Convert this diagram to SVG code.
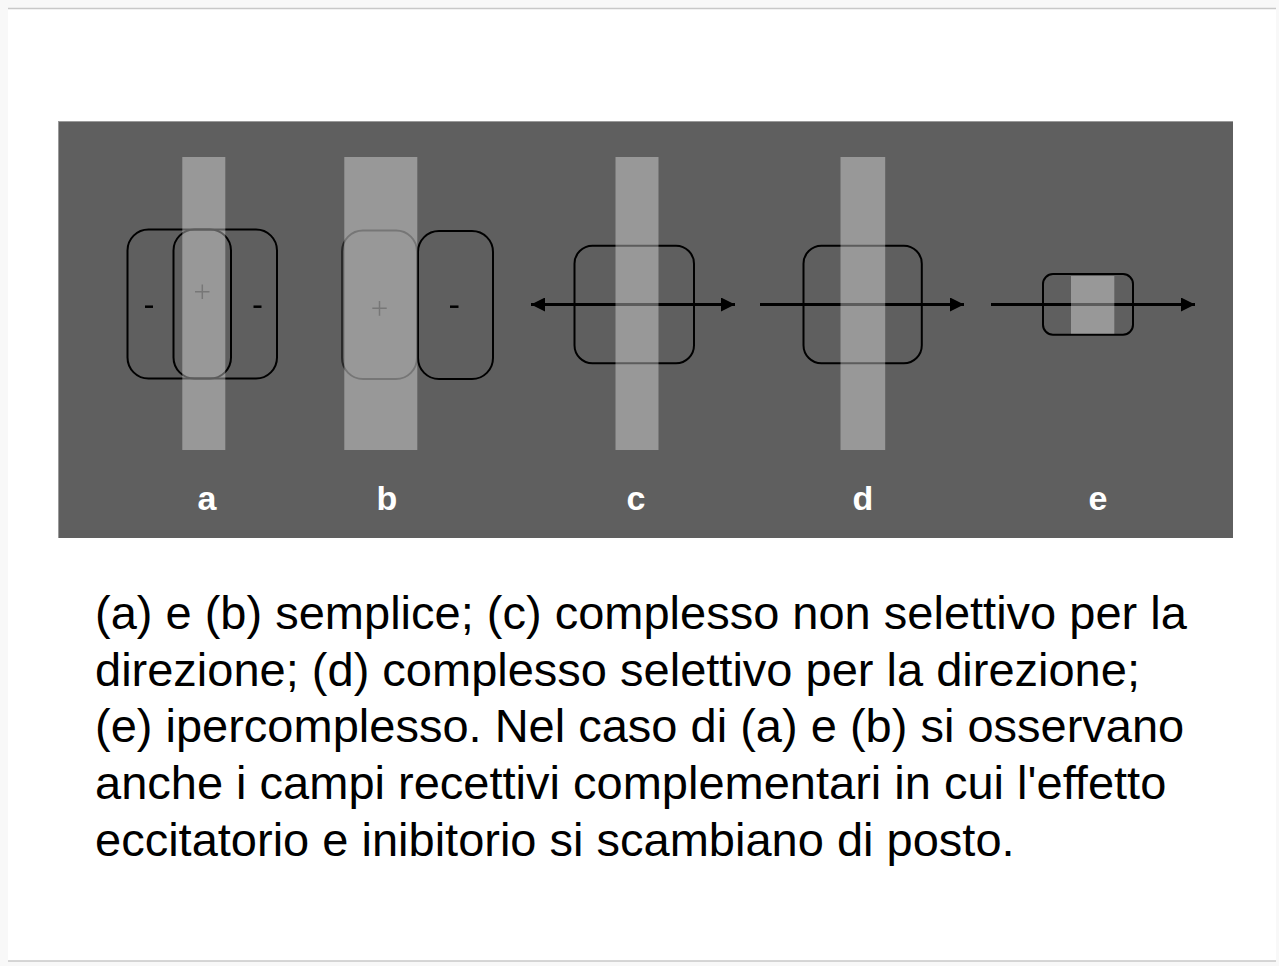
<svg xmlns="http://www.w3.org/2000/svg" width="1279" height="966" viewBox="0 0 1279 966">
<style>
.box{fill:none;stroke:#000;stroke-width:2}
.bar{fill:#fff;fill-opacity:0.36}
.lbl{font-family:"Liberation Sans",Arial,sans-serif;font-weight:bold;font-size:34px;fill:#fff;text-anchor:middle}
.cap{font-family:"Liberation Sans",Arial,sans-serif;font-size:47px;fill:#000}
.minus{stroke:#000;stroke-width:2.5}
.plus{stroke:#777;stroke-width:1.5;fill:none}
.arr{stroke:#000;stroke-width:3;fill:none}
</style>
<defs>
<marker id="ah" viewBox="0 0 14 14" refX="14" refY="7" markerWidth="14" markerHeight="14" markerUnits="userSpaceOnUse" orient="auto-start-reverse">
<path d="M0,0 L14,7 L0,14 Z" fill="#000"/>
</marker>
</defs>
<rect x="0" y="0" width="1279" height="966" fill="#f8f8f8"/>
<rect x="8" y="8" width="1268" height="953" fill="#fff"/>
<line x1="8" y1="8.5" x2="1276" y2="8.5" stroke="#c8c8c8" stroke-width="1.5"/>
<line x1="8" y1="961" x2="1276" y2="961" stroke="#c8c8c8" stroke-width="1.5"/>
<g id="panel">
<rect x="58" y="121" width="1175" height="417" fill="#5f5f5f"/>
<line x1="58" y1="121.5" x2="1233" y2="121.5" stroke="#9a9a9a" stroke-width="1"/>
<line x1="58.5" y1="121" x2="58.5" y2="538" stroke="#9a9a9a" stroke-width="1"/>
</g>
<g id="connectors">
<line class="arr" x1="531" y1="304.5" x2="735" y2="304.5" marker-start="url(#ah)" marker-end="url(#ah)"/>
<line class="arr" x1="760" y1="304.5" x2="964" y2="304.5" marker-end="url(#ah)"/>
<line class="arr" x1="991" y1="304.5" x2="1195" y2="304.5" marker-end="url(#ah)"/>
</g>
<g id="node-a">
<rect class="box" x="127.5" y="229.5" width="103.5" height="149" rx="21"/>
<rect class="box" x="173.5" y="229.5" width="103.5" height="149" rx="21"/>
<line class="minus" x1="145" y1="306.7" x2="153" y2="306.7"/>
<line class="minus" x1="253.5" y1="306.7" x2="261.5" y2="306.7"/>
<rect class="bar" x="182.3" y="157" width="43" height="293"/>
<path class="plus" d="M195,291.7 H209.5 M202.3,284.5 V299"/>
<text class="lbl" x="207" y="510">a</text>
</g>
<g id="node-b">
<rect class="box" x="342" y="230.5" width="75" height="148.5" rx="21" style="stroke:#2a2a2a"/>
<rect class="box" x="418" y="231" width="75" height="148" rx="21"/>
<line class="minus" x1="450" y1="306.7" x2="458.5" y2="306.7"/>
<rect class="bar" x="344.3" y="157" width="73" height="293"/>
<path class="plus" d="M372.3,308.3 H386.7 M379.5,301 V315.7"/>
<text class="lbl" x="387" y="510">b</text>
</g>
<g id="node-c">
<rect class="box" x="574.5" y="245.7" width="119.5" height="117.6" rx="18"/>
<rect class="bar" x="615.5" y="157" width="43" height="293"/>
<text class="lbl" x="636" y="510">c</text>
</g>
<g id="node-d">
<rect class="box" x="803.5" y="245.7" width="118.3" height="117.6" rx="18"/>
<rect class="bar" x="840.5" y="157" width="44.7" height="293"/>
<text class="lbl" x="863" y="510">d</text>
</g>
<g id="node-e">
<rect class="box" x="1043" y="274" width="90" height="60.7" rx="10"/>
<rect class="bar" x="1071" y="276" width="43.3" height="57.7"/>
<text class="lbl" x="1098" y="510">e</text>
</g>
<g id="caption">
<text class="cap" x="95" y="629">(a) e (b) semplice; (c) complesso non selettivo per la</text>
<text class="cap" x="95" y="686">direzione; (d) complesso selettivo per la direzione;</text>
<text class="cap" x="95" y="742">(e) ipercomplesso. Nel caso di (a) e (b) si osservano</text>
<text class="cap" x="95" y="799">anche i campi recettivi complementari in cui l'effetto</text>
<text class="cap" x="95" y="856">eccitatorio e inibitorio si scambiano di posto.</text>
</g>
</svg>
